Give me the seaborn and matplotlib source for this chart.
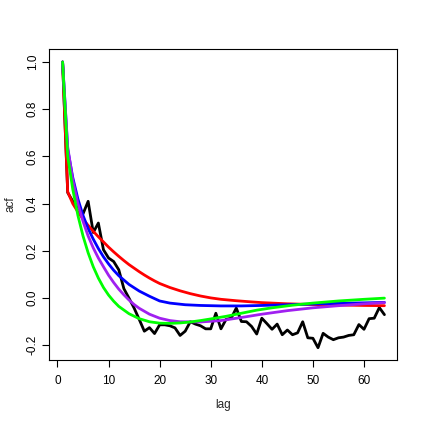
import numpy as np
import pandas as pd
import matplotlib
matplotlib.use("Agg")
import matplotlib.pyplot as plt
import seaborn as sns

# sample ACF (black)
acf_lags = list(range(1, 65))
acf_vals = [1.0, 0.447, 0.41, 0.388, 0.357, 0.41, 0.278, 0.318, 0.205, 0.17,
            0.155, 0.12, 0.04, 0.0, -0.042, -0.09, -0.14, -0.125, -0.15, -0.113,
            -0.113, -0.117, -0.126, -0.158, -0.14, -0.10, -0.11, -0.117, -0.13, -0.13,
            -0.064, -0.13, -0.09, -0.085, -0.042, -0.099, -0.10, -0.12, -0.152, -0.085,
            -0.108, -0.132, -0.11, -0.155, -0.135, -0.155, -0.147, -0.1, -0.168, -0.17,
            -0.21, -0.149, -0.165, -0.176, -0.168, -0.165, -0.158, -0.155, -0.112, -0.132,
            -0.087, -0.085, -0.04, -0.07]

# model ACFs
red_lags = [1, 2, 3, 4, 5, 6, 7, 8, 9, 10, 11, 12, 13, 14, 15, 16, 17, 18, 19, 20,
            22, 24, 26, 28, 30, 32, 35, 38, 40, 45, 50, 55, 60, 64]
red_vals = [1.0, 0.45, 0.40, 0.365, 0.335, 0.308, 0.283, 0.26, 0.238, 0.216,
            0.196, 0.177, 0.159, 0.142, 0.127, 0.112, 0.098, 0.085, 0.073, 0.062,
            0.045, 0.031, 0.019, 0.009, 0.001, -0.005, -0.011, -0.016, -0.019, -0.024,
            -0.027, -0.029, -0.031, -0.032]

blue_lags = [1, 2, 3, 4, 5, 6, 7, 8, 9, 10, 11, 12, 14, 16, 18, 20, 22, 25, 28,
             32, 36, 40, 45, 50, 55, 60, 64]
blue_vals = [1.0, 0.63, 0.51, 0.42, 0.35, 0.295, 0.25, 0.21, 0.175, 0.145,
             0.118, 0.095, 0.058, 0.03, 0.008, -0.012, -0.021, -0.028, -0.031,
             -0.033, -0.033, -0.031, -0.028, -0.025, -0.022, -0.02, -0.018]

purple_lags = [1, 2, 3, 4, 5, 6, 7, 8, 9, 10, 11, 12, 13, 14, 15, 16, 18, 20, 22,
               24, 28, 32, 36, 40, 45, 50, 55, 60, 64]
purple_vals = [1.0, 0.64, 0.5, 0.4, 0.325, 0.263, 0.213, 0.17, 0.133, 0.097,
               0.066, 0.038, 0.014, -0.008, -0.027, -0.043, -0.068, -0.085, -0.095,
               -0.1, -0.101, -0.095, -0.082, -0.068, -0.053, -0.041, -0.032, -0.024, -0.019]

green_lags = [1, 2, 3, 4, 5, 6, 7, 8, 9, 10, 11, 12, 14, 16, 18, 20, 22, 24, 26,
              28, 30, 33, 36, 39, 42, 46, 50, 55, 60, 64]
green_vals = [1.0, 0.6, 0.46, 0.35, 0.263, 0.192, 0.133, 0.085, 0.045, 0.013,
              -0.013, -0.035, -0.066, -0.087, -0.1, -0.106, -0.107, -0.105, -0.101,
              -0.095, -0.088, -0.077, -0.064, -0.051, -0.041, -0.03, -0.021, -0.012,
              -0.005, 0.0]

x_ticks = [0, 10, 20, 30, 40, 50, 60]
y_ticks = [-0.2, 0.0, 0.2, 0.4, 0.6, 0.8, 1.0]

sns.set_style("white")
plt.rcParams['font.family'] = ['Liberation Sans', 'DejaVu Sans']
plt.rcParams['axes.unicode_minus'] = False

fig = plt.figure(figsize=(4.23, 4.23), dpi=100)
ax = fig.add_axes([49 / 423, 1 - 360 / 423, (397 - 49) / 423, (360 - 49) / 423])

series = [
    (acf_lags, acf_vals, "black"),
    (red_lags, red_vals, "#FF0000"),
    (blue_lags, blue_vals, "#0000FF"),
    (purple_lags, purple_vals, "#A020F0"),
    (green_lags, green_vals, "#00FF00"),
]
for lags, vals, col in series:
    df = pd.DataFrame({"lag": lags, "acf": vals})
    sns.lineplot(data=df, x="lag", y="acf", color=col, linewidth=2.0, ax=ax,
                 estimator=None, sort=False)

ax.set_xlim(-1.66, 66.46)
ax.set_ylim(-0.262, 1.055)
ax.set_xticks(x_ticks)
ax.set_xticklabels([str(t) for t in x_ticks])
ax.set_yticks(y_ticks)
ax.set_yticklabels([f"{t:.1f}" for t in y_ticks], rotation=90, va="center")

for s in ax.spines.values():
    s.set_visible(True)
    s.set_color("black")
    s.set_linewidth(0.8)

ax.tick_params(axis="both", which="major", direction="out", length=5, width=0.8,
               labelsize=8.5, colors="black", bottom=True, left=True)
ax.tick_params(axis="x", pad=6)
ax.tick_params(axis="y", pad=2.5)
ax.set_xlabel("lag", fontsize=8.5)
ax.set_ylabel("acf", fontsize=8.5)
ax.xaxis.set_label_coords(0.5, (360 - 405) / 311)
ax.yaxis.set_label_coords((10 - 49) / 348, 0.5)
ax.xaxis.label.set_va("center")
ax.yaxis.label.set_va("center")

fig.savefig("out.png", dpi=100)
